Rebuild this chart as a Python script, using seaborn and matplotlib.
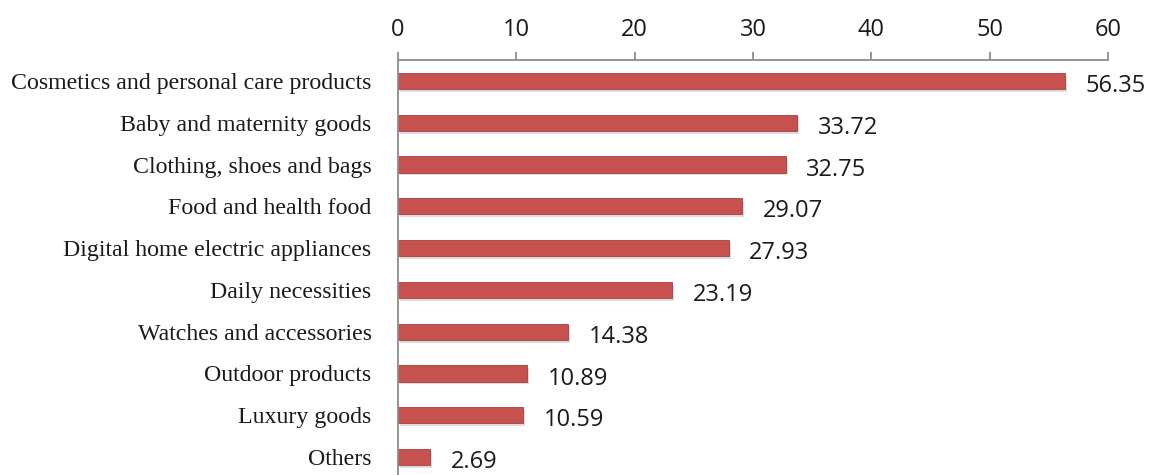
import matplotlib
matplotlib.use("Agg")
import matplotlib.pyplot as plt
import matplotlib.patheffects as pe
import numpy as np
import pandas as pd
import seaborn as sns

categories = [
    "Cosmetics and personal care products",
    "Baby and maternity goods",
    "Clothing, shoes and bags",
    "Food and health food",
    "Digital home electric appliances",
    "Daily necessities",
    "Watches and accessories",
    "Outdoor products",
    "Luxury goods",
    "Others",
]
values = [56.35, 33.72, 32.75, 29.07, 27.93, 23.19, 14.38, 10.89, 10.59, 2.69]
x_ticks = [0, 10, 20, 30, 40, 50, 60]

df = pd.DataFrame({"category": categories, "value": values})

sns.set_theme(style="white")

fig = plt.figure(figsize=(11.51, 4.75), dpi=100)
ax = fig.add_axes([398 / 1151, -3 / 475, 710 / 1151, 418 / 475])

sns.barplot(
    data=df,
    x="value",
    y="category",
    orient="h",
    color="#C6514F",
    saturation=1,
    width=0.39,
    ax=ax,
)

for bar in ax.patches:
    bar.set_edgecolor("#A53F3D")
    bar.set_linewidth(0.6)
    bar.set_path_effects([
        pe.SimplePatchShadow(offset=(1.5, -2), alpha=0.25, shadow_rgbFace="#777777"),
        pe.Normal(),
    ])

for i, v in enumerate(values):
    ax.text(
        v + 1.75,
        i + 0.12,
        f"{v:.2f}",
        va="center",
        ha="left",
        fontsize=17,
        family="Open Sans",
        color="#1a1a1a",
    )

ax.set_xlim(0, 60)
ax.set_ylim(len(categories) - 0.5, -0.5)
ax.set_xticks(x_ticks)
ax.xaxis.tick_top()
ax.set_xlabel("")
ax.set_ylabel("")

for lab in ax.get_xticklabels():
    lab.set_family("Open Sans")
    lab.set_fontsize(17)
    lab.set_color("#1a1a1a")

for lab in ax.get_yticklabels():
    lab.set_family("Liberation Serif")
    lab.set_fontsize(17.2)
    lab.set_color("#1a1a1a")

ax.tick_params(axis="x", direction="out", length=6, width=1.3, color="#8c8c8c", pad=7)
ax.tick_params(axis="y", which="major", length=0, pad=19)
ax.set_yticks(np.arange(len(categories) - 1) + 0.5, minor=True)
ax.tick_params(axis="y", which="minor", direction="out", length=6, width=1.3, color="#8c8c8c")

for side in ["right", "bottom"]:
    ax.spines[side].set_visible(False)
for side in ["top", "left"]:
    ax.spines[side].set_color("#8c8c8c")
    ax.spines[side].set_linewidth(1.3)

ax.grid(False)

fig.savefig("out.png", dpi=100)
